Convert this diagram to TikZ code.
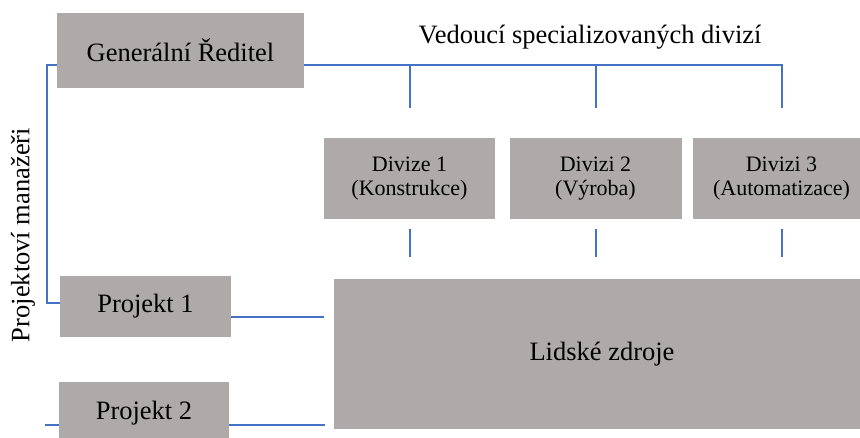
\documentclass[tikz,border=0pt]{standalone}
\usepackage{fontspec}
\setmainfont{Liberation Serif}
\usepackage{tikz}
\usetikzlibrary{positioning,calc}
\definecolor{boxgray}{RGB}{174,170,170}
\definecolor{lineblue}{RGB}{68,114,196}

\begin{document}
\begin{tikzpicture}[x=1pt,y=1pt,node distance=186pt,on grid,
	box/.style={fill=boxgray,inner sep=0pt,align=center,font=\fontsize{26.5}{30}\selectfont},
	divbox/.style={box,minimum height=81pt,font=\fontsize{22}{23.5}\selectfont},
	conn/.style={draw=lineblue,line width=2pt}]
	     \useasboundingbox (0,0) rectangle (860,437);
	     \node[box,minimum width=247pt,minimum height=75pt] (gr) at (180.5,386.5) {Generální Ředitel};
	     \node[anchor=base,inner sep=0pt,font=\fontsize{26.5}{30}\selectfont] (vedouci) at (590,393) {Vedoucí specializovaných divizí};
	     \node[divbox,minimum width=171pt] (d1) at (409.5,258.5) {Divize 1\\(Konstrukce)};
	     \node[divbox,minimum width=172pt] (d2) [right=of d1] {Divizi 2\\(Výroba)};
	     \node[divbox,minimum width=178pt] (d3) [right=of d2] {Divizi 3\\(Automatizace)};
	     \node[box,minimum width=171pt,minimum height=61pt] (p1) at (145.5,130.5) {Projekt 1};
	     \node[box,minimum width=170pt,minimum height=62pt] (p2) at (144,24) {Projekt 2};
	     \node[box,minimum width=536pt,minimum height=150pt] (lz) at (602,83) {Lidské zdroje};
	     \node[rotate=90,inner sep=0pt,font=\fontsize{26.5}{30}\selectfont] (pm) at (23,202) {Projektoví manažeři};

	     % lines
	     \coordinate (grr) at ([yshift=-14.5pt]gr.east);
	     \coordinate (grl) at ([yshift=-14.5pt]gr.west);
	     \coordinate (p1r) at ([yshift=-10.5pt]p1.east);
	     \coordinate (p2r) at ([yshift=-12pt]p2.east);
	     \draw[conn] (grr) -| ([yshift=30pt]d3.north);
	     \draw[conn] (d1.north |- grr) -- ([yshift=30pt]d1.north);
	     \draw[conn] (d2.north |- grr) -- ([yshift=30pt]d2.north);
	     \foreach \d in {d1,d2,d3}
	       \draw[conn] ([yshift=-10pt]\d.south) -- ++(0,-28);
	     \draw[conn] (grl) -- ++(-10,0) |- ([yshift=3.5pt]p1.west);
	     \draw[conn] (p1r) -- ([xshift=-10pt]lz.west |- p1r);
	     \draw[conn] (p2r) -- ([xshift=-9pt]lz.west |- p2r);
	     \draw[conn] (p2.west |- p2r) -- ++(-14,0);
            \end{tikzpicture}
\end{document}
